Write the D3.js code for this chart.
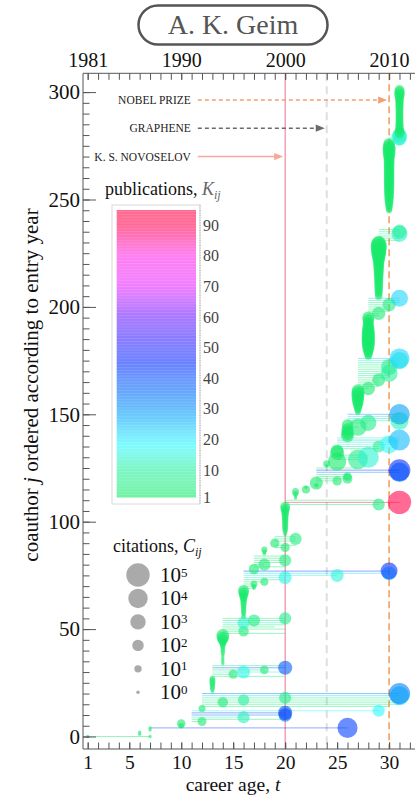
<!DOCTYPE html>
<html><head><meta charset="utf-8">
<script src="https://cdn.jsdelivr.net/npm/d3@7"></script>
<style>
html,body{margin:0;padding:0;background:#fff;}
svg{display:block;}
text{font-family:"Liberation Serif","Times New Roman",serif;}
</style></head>
<body><svg id="chart" width="415" height="797"></svg>
<script>
// ---------------- DATA ----------------
const title = "A. K. Geim";
const bottomTicks = [1,5,10,15,20,25,30];
const topYears = [1981,1990,2000,2010];
const yTicks = [0,50,100,150,200,250,300];
const colorTicks = [1,10,20,30,40,50,60,70,80,90];
const citeExponents = [5,4,3,2,1,0];
// publication count K -> colour stops
const kStops  = [1, 10, 18, 30, 45, 60, 70, 80, 90, 95];
const kColors = ["#18ea6a","#2af0a0","#2cf8ff","#0090f8","#0a30ff","#7020ff","#e82cff","#ff2ce8","#ff0850","#ff0848"];
// events: label, career age, row (coauthor index) of the arrow
const eventLabels = ["NOBEL PRIZE","GRAPHENE","K. S. NOVOSELOV"];
const eventT = [30,24,20];
const eventRow = [296.3,283.2,270];
// career year in which each group of new coauthors first appears
const entryYears = [1,6,7,10,11,12,13,14,16,17,18,19,20,21,22,23,24,25,26,27,28,29,30,31];
// citations C of each newcomer's first joint year (0 = no citations)
const entryCites = [
 [1],
 [1,1],
 [1,1],
 [3,20],
 [0,0,0,0,0,0],
 [8,0,0,0,0,0,0,0],
 [1,2,3,3,4,5,3,0,0,0,0,0,0],
 [1,1,1,1,1,2,2,2,3,5,10,60,150,250,0,0,0,0,0,0,0,0],
 [2,2,3,3,3,4,5,5,8,15,30,60,80,0,0,0,0,0,0,0,0,0],
 [60,0,0,0,0,0,0],
 [1,2,5],
 [0,0,30,0,0,0],
 [1,2,3,4,5,5,5,6,6,8,10,15,30,40,0,0,0],
 [1,1,3,8],
 [15,1],
 [2,250,0,0,0,0,0,0,0],
 [1,8],
 [5000,0,0,0,500,200,0,0,0,0,0,0],
 [250,200,150,150,0,100,0,0,0,0,0],
 [3,8,15,30,60,100,150,200,250,250,200,0,0,0,0,0,0,0,0,0,0,0,0,0,0,0],
 [8,20,40,80,150,200,250,300,300,300,300,250,200,150,100,80,60,100,150,0,0,0,0,0,0,0,0,0],
 [10,10,15,15,20,20,25,25,30,30,40,40,50,60,70,80,100,150,250,400,600,900,1200,1500,1200,300,0,0,0,0,0,0],
 [0,0,0,0,0,0,0,0,5,8,10,15,20,30,30,40,40,50,50,50,60,60,60,60,60,60,60,60,60,60,70,70,80,100,150,200,250,250,150,100,0,0,0,0],
 [60,30,20,15,15,12,12,12,12,12,12,12,15,15,15,20,25,40,60,60,40]
];
// later collaborations: [coauthor j, career year t, citations C, publications K]
const repeatVisits = [
 [0,7,1,1],[4,26,15000,42],[7,12,25,2],[8,20,0,3],[9,16,150,12],[10,20,300,35],[11,20,500,42],[12,29,150,18],
 [14,30,0,3],[15,31,0,4],[16,14,60,3],[16,31,0,3],[17,16,100,10],[17,31,0,10],[18,20,150,6],[18,30,0,6],
 [19,31,8000,22],[20,31,30000,32],
 [28,20,0,4],[29,15,30,3],[30,16,250,16],[30,20,0,16],[31,18,20,3],[32,20,500,38],[33,20,0,5],
 [48,20,0,3],[49,16,60,4],[50,20,0,4],[51,19,0,3],[52,20,0,5],[53,16,150,14],[53,20,0,14],[54,17,150,5],[54,20,0,5],[55,20,150,6],
 [69,17,1,1],[70,17,2,1],[71,17,8,2],[72,18,15,2],[73,20,0,3],[74,20,250,16],[75,25,250,15],[76,30,500,22],[77,30,2500,45],
 [79,20,0,3],[80,18,150,3],[81,20,0,3],[82,20,150,4],[83,20,0,2],[84,20,0,2],
 [88,20,30,2],[89,21,0,2],[91,21,0,2],[92,21,150,4],[93,21,0,3],
 [108,29,150,5],[109,31,100000,92],[110,29,0,3],
 [119,25,30,2],[120,26,40,3],[121,26,20,2],[122,26,0,2],[123,31,10000,30],[124,31,40000,45],[125,27,0,3],
 [129,27,12000,6],[130,28,25000,14],[131,28,0,5],[134,29,0,4],[135,29,150,8],[136,30,4000,18],[137,31,0,10],[138,31,25000,25],[139,31,0,12],
 [144,27,3000,4],[146,28,1500,6],[147,31,5000,12],[148,31,0,8],[149,31,0,20],[150,31,20000,28],
 [162,28,300,2],[163,29,0,3],[164,29,0,3],[165,29,0,3],[166,29,250,3],[167,30,0,4],[168,30,0,4],[169,30,2500,10],
 [170,30,0,4],[171,30,0,5],[172,30,1500,8],[173,31,0,5],[174,31,0,6],[175,31,3000,14],[176,31,15000,22],
 [196,29,0,3],[197,29,300,3],[198,30,0,3],[199,30,0,3],[200,30,0,4],[201,30,300,5],[202,31,0,4],[203,31,0,8],[204,31,2500,22],
 [231,31,0,3],[232,31,0,4],[233,31,0,5],[234,31,1500,14],[235,31,500,8],[236,31,0,4],
 [277,31,0,6],[278,31,200,10],[279,31,1000,16],[280,31,600,13]
];

// ---------------- BUILD ----------------
const coauthors = [];
let jj = 0;
entryYears.forEach((t,g)=>entryCites[g].forEach(c=>{coauthors.push({j:jj,visits:[{t:t,c:c,k:1}]}); jj++;}));
repeatVisits.forEach(([j,t,c,k])=>coauthors[j].visits.push({t:t,c:c,k:k}));
coauthors.forEach(a=>{
  a.first = d3.min(a.visits,v=>v.t);
  a.last = d3.max(a.visits,v=>v.t);
  a.maxK = d3.max(a.visits,v=>v.k);
});

const svg = d3.select("#chart");
const L=83, R=413, T=73.3, B=749;
const x = d3.scaleLinear().domain([0.55,32.3]).range([L,R]);
const xYear = d3.scaleLinear().domain([1980.55,2012.3]).range([L,R]);
const y = d3.scaleLinear().domain([0,300]).range([736.5,92.1]);
const r = d3.scaleLinear().domain([0,5]).range([1.7,11.7]);
const kColor = d3.scaleLinear().domain(kStops).range(kColors).interpolate(d3.interpolateRgb).clamp(true);

// title
svg.append("rect").attr("x",138.5).attr("y",5.5).attr("width",189).attr("height",39).attr("rx",19.5)
  .attr("fill","#fff").attr("stroke","#555").attr("stroke-width",2.5);
svg.append("text").attr("x",233).attr("y",34).attr("text-anchor","middle").attr("font-size",28).attr("fill","#555").text(title);

// reference lines at events
const refStyle = [
  {stroke:"#f39a58",w:1.5,dash:"7,4"},
  {stroke:"#dedede",w:2,dash:"8,5"},
  {stroke:"#f07090",w:1,dash:null}
];
eventT.forEach((t,i)=>{
  svg.append("line").attr("x1",x(t)).attr("x2",x(t)).attr("y1",T).attr("y2",B)
    .attr("stroke",refStyle[i].stroke).attr("stroke-width",refStyle[i].w).attr("stroke-dasharray",refStyle[i].dash);
});

// coauthor lines
svg.append("g").selectAll("line").data(coauthors.filter(a=>a.last>a.first)).join("line")
  .attr("x1",a=>x(a.first)).attr("x2",a=>x(a.last)).attr("y1",a=>y(a.j)).attr("y2",a=>y(a.j))
  .attr("stroke",a=>kColor(a.maxK)).attr("stroke-opacity",0.45).attr("stroke-width",1);

// circles
const pts = [];
coauthors.forEach(a=>a.visits.forEach(v=>{ if(v.c>0) pts.push({j:a.j,t:v.t,c:v.c,k:v.k}); }));
svg.append("g").selectAll("circle").data(pts).join("circle")
  .attr("cx",d=>x(d.t)).attr("cy",d=>y(d.j)).attr("r",d=>r(Math.log10(d.c)))
  .attr("fill",d=>kColor(d.k)).attr("fill-opacity",0.6);

// axes
function styleAxis(g,fs){
  g.attr("font-family",null).attr("font-size",null).attr("color","#555");
  g.select(".domain").remove();
  g.selectAll("text").attr("fill","#111").attr("font-size",fs);
}
svg.append("g").attr("transform",`translate(${L},0)`)
  .call(d3.axisLeft(y).tickValues(d3.range(0,301,5)).tickSize(-6.5).tickFormat("")).call(g=>styleAxis(g,21));
svg.append("g").attr("transform",`translate(${L},0)`)
  .call(d3.axisLeft(y).tickValues(yTicks).tickSize(-13).tickPadding(3)).call(g=>styleAxis(g,21));
svg.append("g").attr("transform",`translate(0,${T})`)
  .call(d3.axisTop(xYear).tickValues(d3.range(1981,2013)).tickSize(-6.5).tickFormat("")).call(g=>styleAxis(g,20));
svg.append("g").attr("transform",`translate(0,${T})`)
  .call(d3.axisTop(xYear).tickValues(topYears).tickSize(-6.5).tickPadding(6.5).tickFormat(d3.format("d"))).call(g=>styleAxis(g,20));
svg.append("g").attr("transform",`translate(0,${B})`)
  .call(d3.axisBottom(x).tickValues(d3.range(1,33)).tickSize(-6.5).tickFormat("")).call(g=>styleAxis(g,20));
svg.append("g").attr("transform",`translate(0,${B})`)
  .call(d3.axisBottom(x).tickValues(bottomTicks).tickSize(-6.5).tickPadding(6)).call(g=>styleAxis(g,19.5));
svg.append("path").attr("d",`M${L},${B}V${T}H415M${L},${B}H415`).attr("fill","none").attr("stroke","#555").attr("stroke-width",1);

// axis titles
const xt = svg.append("text").attr("x",233).attr("y",791).attr("text-anchor","middle").attr("font-size",19.5).attr("fill","#111");
xt.append("tspan").text("career age, ");
xt.append("tspan").attr("font-style","italic").text("t");
const yt = svg.append("text").attr("transform","translate(38,385) rotate(-90)").attr("text-anchor","middle").attr("font-size",21).attr("fill","#111");
yt.append("tspan").text("coauthor ");
yt.append("tspan").attr("font-style","italic").text("j");
yt.append("tspan").text(" ordered according to entry year");

// event annotations
const arrowStyle = [
  {stroke:"#f3a070",head:"#f3a070",dash:"4,3"},
  {stroke:"#6a6a6a",head:"#6a6a6a",dash:"4,3"},
  {stroke:"#f8a898",head:"#f8a898",dash:null}
];
eventLabels.forEach((lab,i)=>{
  const yy = y(eventRow[i]);
  const x0 = x(11.6), tip = x(eventT[i]) - 2;
  svg.append("text").attr("x",x0-7).attr("y",yy+4).attr("text-anchor","end").attr("font-size",11.5).attr("fill","#222").text(lab);
  svg.append("line").attr("x1",x0).attr("x2",tip-7).attr("y1",yy).attr("y2",yy)
    .attr("stroke",arrowStyle[i].stroke).attr("stroke-width",1.6).attr("stroke-dasharray",arrowStyle[i].dash);
  svg.append("path").attr("d",`M${tip},${yy}L${tip-9},${yy-3.6}L${tip-9},${yy+3.6}Z`).attr("fill",arrowStyle[i].head);
});

// colour bar legend
const cb = d3.scaleLinear().domain([1,95]).range([497.5,210]);
const pt = svg.append("text").attr("x",105).attr("y",195).attr("font-size",18).attr("fill","#111");
pt.append("tspan").text("publications, ");
pt.append("tspan").attr("font-style","italic").attr("fill","#666").text("K");
pt.append("tspan").attr("font-style","italic").attr("fill","#666").attr("font-size",12).attr("dy",4).text("ij");
svg.append("rect").attr("x",112).attr("y",205).attr("width",88).attr("height",299).attr("fill","none").attr("stroke","#dadada");
svg.append("line").attr("x1",200).attr("x2",200).attr("y1",205).attr("y2",504).attr("stroke","#aaa").attr("stroke-dasharray","1,1.5");
const cbSteps = d3.range(1,95,0.5);
svg.append("g").selectAll("rect").data(cbSteps).join("rect")
  .attr("x",116.7).attr("width",79.3).attr("y",k=>cb(k+0.5)).attr("height",k=>cb(k)-cb(k+0.5)+0.05)
  .attr("fill",k=>kColor(k)).attr("fill-opacity",0.6);
svg.append("g").selectAll("text").data(colorTicks).join("text")
  .attr("x",203).attr("y",k=>cb(k)).attr("dy","0.35em").attr("font-size",16).attr("fill","#444").text(k=>k);

// citation legend
const ct = svg.append("text").attr("x",113).attr("y",552).attr("font-size",18).attr("fill","#111");
ct.append("tspan").text("citations, ");
ct.append("tspan").attr("font-style","italic").text("C");
ct.append("tspan").attr("font-style","italic").attr("font-size",12).attr("dy",4).text("ij");
const ly = d3.scaleLinear().domain([5,0]).range([575,692.3]);
const lg = svg.append("g").selectAll("g").data(citeExponents).join("g");
lg.append("circle").attr("cx",138).attr("cy",e=>ly(e)).attr("r",e=>r(e)).attr("fill","#aaa");
const lt = lg.append("text").attr("x",160).attr("y",e=>ly(e)+7).attr("font-size",21).attr("fill","#111");
lt.append("tspan").text("10");
lt.append("tspan").attr("font-size",13).attr("dy",-5.5).text(e=>e);
</script></body></html>
